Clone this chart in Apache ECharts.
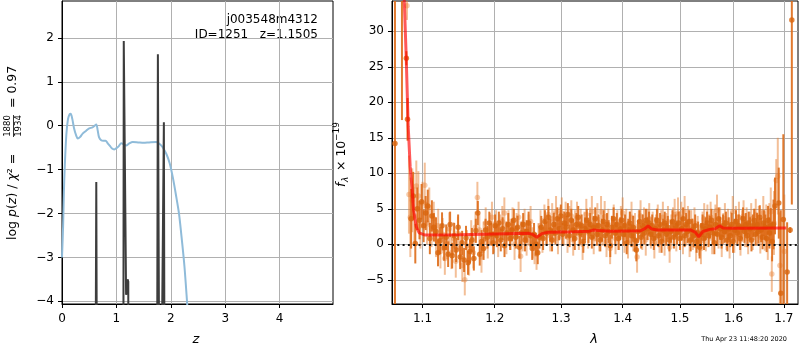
<!DOCTYPE html>
<html>
<head>
<meta charset="utf-8">
<script src="https://cdn.jsdelivr.net/npm/echarts@6/dist/echarts.min.js"></script>
<style>
  html, body { margin: 0; padding: 0; background: #fff; }
  #chart { width: 800px; height: 350px; }
</style>
</head>
<body>
<div id="chart"></div>
<script>
// ---- left panel: p(z) ----
const zTicks = [0, 1, 2, 3, 4];
const logpTicks = [-4, -3, -2, -1, 0, 1, 2];

// chi2 curve (blue), [z, log p]
const chi2Curve = [
  [0.00, -3.0], [0.02, -2.3], [0.035, -1.5], [0.05, -0.95], [0.08, -0.2], [0.11, 0.15],
  [0.14, 0.26], [0.16, 0.27], [0.19, 0.15], [0.22, -0.05], [0.26, -0.22], [0.29, -0.29],
  [0.33, -0.26], [0.38, -0.18], [0.44, -0.12], [0.50, -0.06], [0.56, -0.04], [0.60, 0.0],
  [0.63, 0.03], [0.655, -0.1], [0.68, -0.26], [0.72, -0.33], [0.76, -0.34], [0.80, -0.34],
  [0.84, -0.40], [0.88, -0.46], [0.92, -0.52], [0.96, -0.54], [1.00, -0.51], [1.04, -0.47],
  [1.09, -0.40], [1.13, -0.42], [1.18, -0.45], [1.23, -0.41], [1.30, -0.37], [1.40, -0.38],
  [1.50, -0.39], [1.60, -0.38], [1.73, -0.37], [1.80, -0.42], [1.85, -0.49], [1.92, -0.65],
  [1.98, -0.86], [2.04, -1.2], [2.10, -1.62], [2.15, -2.0], [2.19, -2.45], [2.25, -3.2],
  [2.30, -4.05], [2.33, -4.6]
];

// p(z) spikes (black), [z, log p]
const pzCurve = [
  [0.00, -30], [0.55, -30], [0.630, -1.28], [0.640, -1.30], [0.70, -30],
  [1.105, -30], [1.135, 1.93], [1.150, 1.90], [1.178, -3.85], [1.19, -3.8], [1.205, -3.5],
  [1.218, -3.55], [1.235, -30],
  [1.70, -30], [1.762, 1.63], [1.774, 1.60], [1.80, -10], [1.83, -10], [1.872, 0.08],
  [1.882, 0.05], [1.93, -30], [4.98, -30]
];

// ---- right panel: spectrum ----
const lamTicks = [1.1, 1.2, 1.3, 1.4, 1.5, 1.6, 1.7];
const fluxTicks = [-5, 0, 5, 10, 15, 20, 25, 30];

// darker points, [lambda, flux, err]
const darkPts = [
  [1.0641, 14.2, 60], [1.0731, 34.5, 17], [1.0788, 26.2, 1.0], [1.0803, 17.6, 3.0],
  [1.0850, 3.6, 4.2], [1.0878, 6.8, 3.4], [1.0905, 0.1, 2.8], [1.0932, 5.0, 3.0],
  [1.0960, 3.4, 2.7], [1.0988, 6.0, 2.5], [1.1015, 2.6, 2.3], [1.1042, 4.4, 2.4],
  [1.1070, 5.4, 2.3], [1.1098, 0.8, 2.2], [1.1125, 4.0, 2.2], [1.1152, 2.4, 2.0],
  [1.1180, 1.8, 2.0], [1.1207, -1.2, 1.9], [1.1235, 0.5, 1.9], [1.1262, 2.6, 1.9],
  [1.1290, -0.5, 1.8], [1.1318, 1.0, 1.8], [1.1345, -1.4, 1.8], [1.1372, 2.8, 1.8],
  [1.1400, -1.6, 1.8], [1.1428, 1.2, 1.8], [1.1455, -0.8, 1.7], [1.1482, 2.4, 1.8],
  [1.1510, -1.8, 1.7], [1.1538, 0.2, 1.7], [1.1565, -2.2, 1.7], [1.1592, 0.9, 1.7],
  [1.1620, -2.6, 1.7], [1.1648, -1.0, 1.7], [1.1675, 0.6, 1.7], [1.1702, -2.0, 1.7],
  [1.1730, 1.9, 1.7], [1.1758, 4.4, 1.7], [1.1785, -1.4, 1.6], [1.1812, 0.4, 1.6],
  [1.1840, -0.6, 1.6], [1.1868, 2.0, 1.6], [1.1895, 1.0, 1.6], [1.1922, 3.0, 1.6],
  [1.1950, 1.4, 1.6], [1.1978, 0.2, 1.6], [1.2005, 2.6, 1.6], [1.2032, 1.2, 1.6],
  [1.2060, 3.0, 1.6], [1.2088, 0.6, 1.6], [1.2115, 2.2, 1.6], [1.2142, -0.2, 1.6],
  [1.2170, 1.6, 1.6], [1.2198, 2.8, 1.6], [1.2225, 0.8, 1.6], [1.2252, 2.0, 1.6],
  [1.2280, 3.4, 1.6], [1.2308, 1.0, 1.6], [1.2335, 2.4, 1.6], [1.2362, -0.4, 1.6],
  [1.2390, 1.6, 1.6], [1.2418, 2.8, 1.6], [1.2445, 0.6, 1.6], [1.2472, 1.8, 1.6],
  [1.2500, 3.0, 1.6], [1.2528, 1.2, 1.6], [1.2555, -0.6, 1.6], [1.2582, 1.4, 1.6],
  [1.2610, 0.0, 1.6], [1.2638, -1.2, 1.6], [1.2665, 1.0, 1.6], [1.2692, 2.4, 1.6],
  [1.2720, 0.8, 1.6], [1.2748, 3.2, 1.6], [1.2775, 1.6, 1.6], [1.2802, 3.8, 1.6],
  [1.2830, 2.0, 1.6], [1.2858, 0.6, 1.6], [1.2885, 2.8, 1.6], [1.2912, 1.6, 1.6],
  [1.2940, 3.6, 1.6], [1.2968, 2.2, 1.6], [1.2995, 4.0, 1.6], [1.3022, 1.4, 1.6],
  [1.3050, 3.0, 1.6], [1.3078, 2.4, 1.6], [1.3105, 4.2, 1.6], [1.3132, 1.2, 1.6],
  [1.3160, 3.4, 1.6], [1.3188, 2.0, 1.6], [1.3215, 0.8, 1.6], [1.3242, 2.8, 1.6],
  [1.3270, 3.8, 1.6], [1.3298, 1.6, 1.6], [1.3325, 2.6, 1.6], [1.3352, 0.4, 1.6],
  [1.3380, 2.2, 1.6], [1.3408, 3.4, 1.6], [1.3435, 1.8, 1.6], [1.3462, 2.8, 1.6],
  [1.3490, 1.0, 1.6], [1.3518, 2.4, 1.6], [1.3545, 3.6, 1.6], [1.3572, 1.4, 1.6],
  [1.3600, 2.6, 1.6], [1.3628, 0.6, 1.6], [1.3655, 2.0, 1.6], [1.3682, 3.2, 1.6],
  [1.3710, 1.2, 1.6], [1.3738, 2.8, 1.6], [1.3765, 1.8, 1.6], [1.3792, -0.2, 1.6],
  [1.3820, 2.4, 1.6], [1.3848, 3.6, 1.6], [1.3875, 1.6, 1.6], [1.3902, 2.8, 1.6],
  [1.3930, 0.8, 1.6], [1.3958, 2.2, 1.6], [1.3985, 3.4, 1.6], [1.4012, 1.4, 1.6],
  [1.4040, 2.6, 1.6], [1.4068, 0.2, 1.6], [1.4095, 2.0, 1.6], [1.4122, 3.0, 1.6],
  [1.4150, 1.2, 1.6], [1.4178, 2.4, 1.6], [1.4205, 0.6, 1.6], [1.4232, -0.8, 1.6],
  [1.4260, 1.8, 1.6], [1.4288, 3.2, 1.6], [1.4315, 1.0, 1.6], [1.4342, 2.6, 1.6],
  [1.4370, 1.6, 1.6], [1.4398, 3.4, 1.6], [1.4425, 2.2, 1.6], [1.4452, 3.0, 1.6],
  [1.4480, 1.4, 1.6], [1.4508, 2.6, 1.6], [1.4535, 0.8, 1.6], [1.4562, 2.2, 1.6],
  [1.4590, 3.4, 1.6], [1.4618, 1.2, 1.6], [1.4645, 2.8, 1.6], [1.4672, 0.4, 1.6],
  [1.4700, 2.0, 1.6], [1.4728, 3.0, 1.6], [1.4755, 1.4, 1.6], [1.4782, 2.4, 1.6],
  [1.4810, 0.6, 1.6], [1.4838, 1.8, 1.6], [1.4865, 3.2, 1.6], [1.4892, 1.0, 1.6],
  [1.4920, 2.6, 1.6], [1.4948, 1.6, 1.6], [1.4975, 3.0, 1.6], [1.5002, 0.8, 1.6],
  [1.5030, 2.2, 1.6], [1.5058, 3.6, 1.6], [1.5085, 1.2, 1.6], [1.5112, 2.8, 1.6],
  [1.5140, 1.8, 1.6], [1.5168, 3.2, 1.6], [1.5195, 0.6, 1.6], [1.5222, 2.0, 1.6],
  [1.5250, 1.2, 1.6], [1.5278, 2.6, 1.6], [1.5305, 0.4, 1.6], [1.5332, 1.6, 1.6],
  [1.5360, -0.4, 1.6], [1.5388, 1.4, 1.6], [1.5415, 2.6, 1.6], [1.5442, 0.8, 1.6],
  [1.5470, 2.2, 1.6], [1.5498, 3.0, 1.6], [1.5525, 1.2, 1.6], [1.5552, 2.4, 1.6],
  [1.5580, 3.4, 1.6], [1.5608, 1.6, 1.6], [1.5635, 0.2, 1.6], [1.5662, 2.8, 1.6],
  [1.5690, 1.4, 1.6], [1.5718, 3.6, 1.6], [1.5745, 2.2, 1.6], [1.5772, 1.0, 1.6],
  [1.5800, 2.6, 1.6], [1.5828, 1.8, 1.6], [1.5855, 3.0, 1.6], [1.5882, 0.6, 1.6],
  [1.5910, 2.2, 1.6], [1.5938, 1.2, 1.6], [1.5965, 2.8, 1.6], [1.5992, 0.4, 1.6],
  [1.6020, 2.0, 1.6], [1.6048, 3.2, 1.6], [1.6075, 1.6, 1.6], [1.6102, 2.6, 1.6],
  [1.6130, 0.8, 1.6], [1.6158, 2.4, 1.6], [1.6185, 3.6, 1.6], [1.6212, 1.8, 1.6],
  [1.6240, 2.8, 1.6], [1.6268, 1.2, 1.6], [1.6295, 3.0, 1.6], [1.6322, 2.2, 1.6],
  [1.6350, 0.6, 1.6], [1.6378, 2.6, 1.6], [1.6405, 3.4, 1.6], [1.6432, 1.4, 1.6],
  [1.6460, 2.8, 1.6], [1.6488, 1.8, 1.7], [1.6515, 3.8, 1.7], [1.6542, 2.0, 1.7],
  [1.6570, 1.0, 1.7], [1.6598, 3.0, 1.8], [1.6625, 2.4, 1.8], [1.6652, 0.8, 1.9],
  [1.6680, 3.4, 2.0], [1.6708, 1.6, 2.2], [1.6735, 2.6, 2.5], [1.6762, 0.4, 2.8],
  [1.6790, 2.8, 3.5], [1.6820, 5.4, 4.0], [1.6897, 5.8, 5.0], [1.6938, -6.9, 11.7],
  [1.6990, 3.5, 12.0], [1.7068, -3.9, 7.0], [1.7130, 2.0, 0.4], [1.7165, 31.6, 26.0]
];

// lighter points, [lambda, flux, err]
const lightPts = [
  [1.0796, 33.6, 2.0], [1.0822, 7.0, 5.5], [1.0840, 3.8, 5.6], [1.0865, 6.2, 4.5],
  [1.0892, 4.0, 4.0], [1.0918, 8.2, 3.6], [1.0945, 6.8, 3.5], [1.0972, 2.6, 3.2],
  [1.1000, 5.8, 3.0], [1.1030, 8.3, 3.2], [1.1060, 3.0, 3.0], [1.1090, 5.2, 2.8],
  [1.1120, 2.2, 2.6], [1.1150, 3.6, 2.4], [1.1180, 0.6, 2.4], [1.1210, 2.6, 2.4],
  [1.1240, -1.0, 2.4], [1.1270, 1.4, 2.3], [1.1300, -2.0, 2.3], [1.1330, 0.2, 2.3],
  [1.1360, 2.2, 2.3], [1.1390, -1.2, 2.3], [1.1420, 0.8, 2.3], [1.1450, -2.4, 2.3],
  [1.1480, 1.6, 2.3], [1.1510, -0.6, 2.3], [1.1540, -3.0, 2.3], [1.1575, -5.0, 2.2],
  [1.1605, -0.2, 2.2], [1.1635, -2.2, 2.2], [1.1665, 1.2, 2.2], [1.1695, -1.2, 2.2],
  [1.1725, 2.4, 2.2], [1.1752, 6.6, 2.2], [1.1780, 2.0, 2.2], [1.1810, -1.8, 2.2],
  [1.1840, 1.0, 2.2], [1.1870, 3.0, 2.2], [1.1900, 0.2, 2.2], [1.1930, 2.2, 2.2],
  [1.1960, 3.8, 2.2], [1.1990, 1.0, 2.2], [1.2020, 2.6, 2.2], [1.2050, 0.4, 2.2],
  [1.2080, 2.0, 2.2], [1.2110, 3.2, 2.2], [1.2140, 4.4, 2.2], [1.2170, 0.8, 2.2],
  [1.2200, 2.6, 2.2], [1.2230, 1.4, 2.2], [1.2260, 3.0, 2.2], [1.2290, 0.0, 2.2],
  [1.2320, 2.2, 2.2], [1.2350, 3.8, 2.2], [1.2380, -1.7, 2.2], [1.2410, 1.2, 2.2],
  [1.2440, 2.8, 2.2], [1.2470, 0.6, 2.2], [1.2500, 2.0, 2.2], [1.2530, 3.2, 2.2],
  [1.2560, 0.2, 2.2], [1.2590, -0.6, 2.2], [1.2620, -1.4, 2.2], [1.2650, 0.8, 2.2],
  [1.2680, 2.6, 2.2], [1.2710, 1.0, 2.2], [1.2740, 3.4, 2.2], [1.2770, 2.0, 2.2],
  [1.2800, 4.2, 2.2], [1.2830, 1.2, 2.2], [1.2860, 3.6, 2.2], [1.2890, 2.4, 2.2],
  [1.2920, 4.6, 2.2], [1.2950, 0.8, 2.2], [1.2980, 3.0, 2.2], [1.3010, 4.4, 2.2],
  [1.3040, 2.0, 2.2], [1.3070, 3.8, 2.2], [1.3100, 1.0, 2.2], [1.3130, 3.2, 2.2],
  [1.3160, 4.0, 2.2], [1.3190, 0.6, 2.2], [1.3220, 2.6, 2.2], [1.3250, 3.8, 2.2],
  [1.3280, 1.4, 2.2], [1.3310, 2.8, 2.2], [1.3340, 0.0, 2.2], [1.3370, 2.4, 2.2],
  [1.3400, 4.2, 2.2], [1.3430, 1.6, 2.2], [1.3460, 3.0, 2.2], [1.3490, 4.6, 2.2],
  [1.3520, 0.8, 2.2], [1.3550, 2.6, 2.2], [1.3580, 3.6, 2.2], [1.3610, 1.2, 2.2],
  [1.3640, 4.6, 2.2], [1.3670, 2.0, 2.2], [1.3700, 3.9, 2.2], [1.3730, 0.4, 2.2],
  [1.3760, 2.8, 2.2], [1.3790, -0.6, 2.2], [1.3820, 1.8, 2.2], [1.3850, 3.4, 2.2],
  [1.3880, 0.8, 2.2], [1.3910, 2.6, 2.2], [1.3940, 1.4, 2.2], [1.3970, 3.2, 2.2],
  [1.4000, 4.4, 2.2], [1.4030, 1.0, 2.2], [1.4060, 2.8, 2.2], [1.4090, 0.2, 2.2],
  [1.4120, 2.4, 2.2], [1.4150, 3.8, 2.2], [1.4180, 1.2, 2.2], [1.4210, 2.2, 2.2],
  [1.4245, -1.8, 2.2], [1.4275, 2.6, 2.2], [1.4305, 4.0, 2.2], [1.4335, 1.4, 2.2],
  [1.4365, 3.0, 2.2], [1.4395, 0.6, 2.2], [1.4425, 2.8, 2.2], [1.4455, 3.6, 2.2],
  [1.4485, 1.6, 2.2], [1.4515, 2.4, 2.2], [1.4545, 0.2, 2.2], [1.4575, 2.0, 2.2],
  [1.4605, 3.4, 2.2], [1.4635, 1.0, 2.2], [1.4665, 2.6, 2.2], [1.4695, 3.8, 2.2],
  [1.4725, 0.6, 2.2], [1.4755, 2.2, 2.2], [1.4785, 3.2, 2.2], [1.4815, -0.4, 2.2],
  [1.4845, 2.0, 2.2], [1.4875, 3.0, 2.2], [1.4905, 4.2, 2.2], [1.4935, 1.2, 2.2],
  [1.4965, 4.4, 2.2], [1.4995, 2.4, 2.2], [1.5025, 3.8, 2.2], [1.5055, 0.8, 2.2],
  [1.5085, 4.6, 2.2], [1.5115, 2.0, 2.2], [1.5145, 3.2, 2.2], [1.5175, 0.4, 2.2],
  [1.5205, 2.6, 2.2], [1.5235, 1.4, 2.2], [1.5265, 3.0, 2.2], [1.5295, -0.2, 2.2],
  [1.5325, 1.8, 2.2], [1.5355, 0.6, 2.2], [1.5385, -0.6, 2.2], [1.5415, 2.4, 2.2],
  [1.5445, 3.6, 2.2], [1.5475, 1.2, 2.2], [1.5505, 3.4, 2.2], [1.5535, 2.0, 2.2],
  [1.5565, 3.8, 2.2], [1.5595, 0.8, 2.2], [1.5625, 2.6, 2.2], [1.5655, 3.4, 2.2],
  [1.5685, 4.8, 2.2], [1.5715, 1.6, 2.2], [1.5745, 3.0, 2.2], [1.5775, 0.4, 2.2],
  [1.5805, 2.2, 2.2], [1.5835, 3.6, 2.2], [1.5865, 1.4, 2.2], [1.5895, 2.8, 2.2],
  [1.5925, 0.2, 2.2], [1.5955, 2.4, 2.2], [1.5985, 4.6, 2.2], [1.6015, 1.0, 2.2],
  [1.6045, 3.2, 2.2], [1.6075, 2.0, 2.2], [1.6105, 3.8, 2.2], [1.6135, 0.6, 2.2],
  [1.6165, 2.6, 2.2], [1.6195, 4.0, 2.2], [1.6225, 1.8, 2.2], [1.6255, 3.0, 2.2],
  [1.6285, 0.8, 2.2], [1.6315, 2.4, 2.2], [1.6345, 3.6, 2.2], [1.6375, 1.4, 2.2],
  [1.6405, 2.8, 2.2], [1.6435, 4.2, 2.2], [1.6465, 2.0, 2.2], [1.6495, 3.2, 2.2],
  [1.6525, 1.0, 2.3], [1.6555, 2.6, 2.3], [1.6585, 4.4, 2.4], [1.6615, 1.6, 2.5],
  [1.6645, 3.0, 2.6], [1.6675, 0.6, 2.8], [1.6705, 2.8, 3.0], [1.6735, 4.6, 3.4],
  [1.6756, -4.2, 2.5], [1.6800, 3.0, 4.5], [1.6845, 9.0, 3.0], [1.6877, 9.6, 5.4],
  [1.6920, -3.0, 7.5], [1.7010, -1.0, 8.0]
];

// best-fit model (red), [lambda, flux]
const modelLine = [
  [1.0740, 40], [1.0761, 34.3], [1.0786, 26.4], [1.0812, 16.6], [1.0838, 10.9],
  [1.0861, 8.1], [1.0882, 4.8], [1.0917, 2.5], [1.0956, 1.6], [1.1035, 1.3],
  [1.1500, 1.35], [1.2000, 1.45], [1.2500, 1.55], [1.2560, 1.4], [1.2622, 1.0],
  [1.2700, 1.5], [1.2800, 1.7], [1.3200, 1.78], [1.3450, 1.85], [1.3510, 2.0],
  [1.3600, 1.95], [1.3800, 1.85], [1.4300, 1.9], [1.4380, 2.2], [1.4435, 2.6],
  [1.4500, 2.15], [1.4600, 2.0], [1.5200, 2.0], [1.5280, 1.7], [1.5343, 1.05],
  [1.5420, 1.8], [1.5550, 2.1], [1.5650, 2.2], [1.5736, 2.6], [1.5800, 2.3],
  [1.6000, 2.25], [1.7050, 2.3]
];

const lamMin = 1.0603, lamMax = 1.7293;
const fMin = -8.41, fMax = 34.27;

const font = 'DejaVu Sans';
const minus = v => (v < 0 ? '\u2212' : '') + Math.abs(v);

function axisBase(grid) {
  return {
    gridIndex: grid,
    type: 'value',
    axisLine: { show: true, onZero: false, lineStyle: { color: '#000', width: 1 } },
    axisTick: { show: true, length: 4, lineStyle: { color: '#000', width: 1 } },
    splitLine: { show: true, lineStyle: { color: '#b0b0b0', width: 1 } },
    axisLabel: { color: '#000', fontFamily: font, fontSize: 12, margin: 8 }
  };
}

// vertical error bars drawn through the axes
function errBars(pts, color, width, z) {
  return {
    type: 'custom', xAxisIndex: 1, yAxisIndex: 1, clip: true, silent: true, z: z,
    data: pts.map(p => [Math.log(p[0]), p[1], p[2]]),
    encode: { x: 0, y: 1 },
    renderItem: function (params, api) {
      const x = api.value(0), y = api.value(1), e = api.value(2);
      const lo = Math.max(y - e, fMin), hi = Math.min(y + e, fMax);
      const a = api.coord([x, lo]), b = api.coord([x, hi]);
      return {
        type: 'line',
        shape: { x1: a[0], y1: a[1], x2: b[0], y2: b[1] },
        style: { stroke: color, lineWidth: width }
      };
    }
  };
}

function dots(pts, color, z) {
  return {
    type: 'scatter', xAxisIndex: 1, yAxisIndex: 1, clip: true, silent: true, z: z,
    symbol: 'circle', symbolSize: 5.5,
    itemStyle: { color: color },
    data: pts.map(p => [Math.log(p[0]), p[1]])
  };
}

const chart = echarts.init(document.getElementById('chart'), null, { renderer: 'canvas' });

const option = {
  animation: false,
  backgroundColor: '#fff',
  grid: [
    { left: 62, top: 1, width: 271, height: 303, show: true, borderColor: '#000', borderWidth: 1 },
    { left: 392, top: 1, width: 406, height: 303, show: true, borderColor: '#000', borderWidth: 1 }
  ],
  xAxis: [
    Object.assign(axisBase(0), {
      min: 0, max: 4.98,
      axisLabel: { color: '#000', fontFamily: font, fontSize: 12, margin: 9, customValues: zTicks },
      axisTick: { show: true, length: 4, lineStyle: { color: '#000' }, customValues: zTicks }
    }),
    Object.assign(axisBase(1), {
      min: Math.log(lamMin), max: Math.log(lamMax),
      axisLabel: {
        color: '#000', fontFamily: font, fontSize: 12, margin: 9,
        customValues: lamTicks.map(Math.log),
        formatter: v => Math.exp(v).toFixed(1)
      },
      axisTick: { show: true, length: 4, lineStyle: { color: '#000' }, customValues: lamTicks.map(Math.log) }
    })
  ],
  yAxis: [
    Object.assign(axisBase(0), {
      min: -4.06, max: 2.84,
      axisLabel: { color: '#000', fontFamily: font, fontSize: 12, margin: 8, customValues: logpTicks, formatter: minus },
      axisTick: { show: true, length: 4, lineStyle: { color: '#000' }, customValues: logpTicks }
    }),
    Object.assign(axisBase(1), {
      min: fMin, max: fMax,
      axisLabel: { color: '#000', fontFamily: font, fontSize: 12, margin: 8, customValues: fluxTicks, formatter: minus },
      axisTick: { show: true, length: 4, lineStyle: { color: '#000' }, customValues: fluxTicks }
    })
  ],
  series: [
    {
      type: 'line', xAxisIndex: 0, yAxisIndex: 0, data: chi2Curve, showSymbol: false, smooth: 0.3,
      lineStyle: { color: '#8fbbd9', width: 2 }, silent: true, z: 3
    },
    {
      type: 'line', xAxisIndex: 0, yAxisIndex: 0, data: pzCurve, showSymbol: false,
      lineStyle: { color: '#3d3d3d', width: 2 }, silent: true, z: 4
    },
    errBars(lightPts, 'rgba(232,128,50,0.5)', 2, 3),
    dots(lightPts, 'rgba(232,128,50,0.5)', 3),
    errBars(darkPts, 'rgba(222,108,24,0.9)', 2, 4),
    dots(darkPts, '#d8650e', 4),
    {
      type: 'line', xAxisIndex: 1, yAxisIndex: 1, showSymbol: false, silent: true, z: 6,
      data: modelLine.map(p => [Math.log(p[0]), p[1]]),
      lineStyle: { color: 'rgba(255,0,0,0.65)', width: 3 },
      markLine: {
        silent: true, symbol: 'none', label: { show: false },
        lineStyle: { color: '#111', width: 2, type: [2, 3.3] },
        data: [{ yAxis: 0 }]
      }
    }
  ],
  graphic: [
    { type: 'text', x: 318, y: 20, style: { text: 'j003548m4312', fill: '#000', font: '12px "DejaVu Sans"', textAlign: 'right', textVerticalAlign: 'middle' } },
    { type: 'text', x: 318, y: 34.5, style: { text: 'ID=1251   z=1.1505', fill: '#000', font: '12px "DejaVu Sans"', textAlign: 'right', textVerticalAlign: 'middle' } },
    { type: 'text', x: 196, y: 340, style: { text: 'z', fill: '#000', font: 'italic 13px "DejaVu Sans"', textAlign: 'center', textVerticalAlign: 'middle' } },
    { type: 'text', x: 594, y: 340, style: { text: 'λ', fill: '#000', font: 'italic 13px "DejaVu Sans"', textAlign: 'center', textVerticalAlign: 'middle' } },
    { type: 'text', x: 787, y: 339, style: { text: 'Thu Apr 23 11:48:20 2020', fill: '#000', font: '6.5px "DejaVu Sans"', textAlign: 'right', textVerticalAlign: 'middle' } },
    {
      type: 'group', x: 13, y: 240, rotation: Math.PI / 2,
      children: [
        { type: 'text', x: 0, y: 0, style: {
          text: 'log {i|p}({i|z}) / {i|χ}² = ', fill: '#000', fontFamily: font, fontSize: 12.5,
          textAlign: 'left', textVerticalAlign: 'middle',
          rich: { i: { fontStyle: 'italic', fontFamily: font, fontSize: 12.5 } }
        } },
        { type: 'text', x: 114, y: -5, style: { text: '1880', fill: '#000', font: '8.5px "DejaVu Sans"', textAlign: 'center', textVerticalAlign: 'middle' } },
        { type: 'line', shape: { x1: 103, y1: 0.5, x2: 125, y2: 0.5 }, style: { stroke: '#000', lineWidth: 0.8 } },
        { type: 'text', x: 114, y: 6, style: { text: '1934', fill: '#000', font: '8.5px "DejaVu Sans"', textAlign: 'center', textVerticalAlign: 'middle' } },
        { type: 'text', x: 128, y: 0, style: { text: ' = 0.97', fill: '#000', font: '12.5px "DejaVu Sans"', textAlign: 'left', textVerticalAlign: 'middle' } }
      ]
    },
    {
      type: 'group', x: 342, y: 187, rotation: Math.PI / 2,
      children: [
        { type: 'text', x: 0, y: 0, style: { text: 'f', fill: '#000', font: 'italic 12.5px "DejaVu Sans"', textAlign: 'left', textVerticalAlign: 'middle' } },
        { type: 'text', x: 5, y: 3.5, style: { text: 'λ', fill: '#000', font: 'italic 9px "DejaVu Sans"', textAlign: 'left', textVerticalAlign: 'middle' } },
        { type: 'text', x: 12, y: 0, style: { text: ' × 10', fill: '#000', font: '12.5px "DejaVu Sans"', textAlign: 'left', textVerticalAlign: 'middle' } },
        { type: 'text', x: 46, y: -5, style: { text: '−19', fill: '#000', font: '9px "DejaVu Sans"', textAlign: 'left', textVerticalAlign: 'middle' } }
      ]
    }
  ]
};

chart.setOption(option);
</script>
</body>
</html>
